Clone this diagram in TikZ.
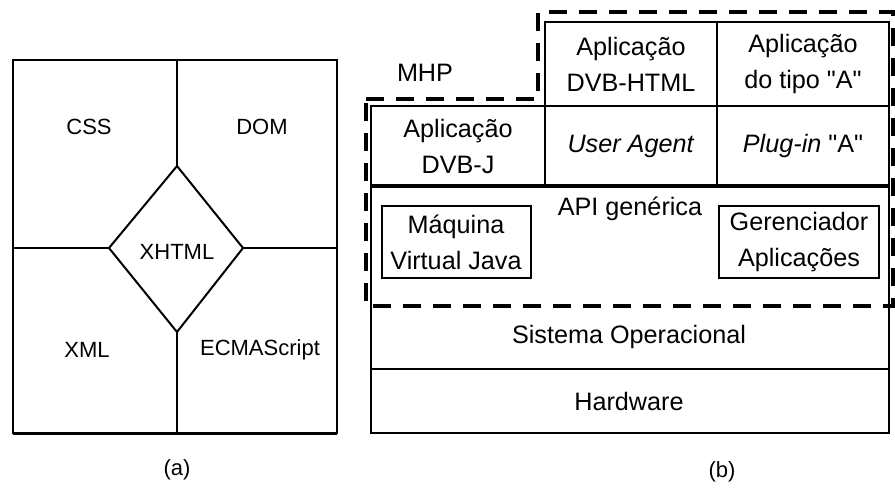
\documentclass[tikz,border=0pt]{standalone}
\usepackage{fontspec}
\setmainfont{Liberation Sans}[Ligatures=TeXOff]
\usetikzlibrary{positioning}

\begin{document}
\begin{tikzpicture}[x=0.5pt, y=-0.5pt, line width=1pt,
  every node/.style={align=center, inner sep=0pt},
  lbl/.style={font=\fontsize{11}{13}\selectfont},
  cell/.style={font=\fontsize{12.6}{18}\selectfont},
  inbox/.style={draw, line width=1pt, inner sep=2pt},
  mhpline/.style={line width=2.4pt, dash pattern=on 9pt off 6pt}]
\useasboundingbox (0,0) rectangle (895,489);
%% (a) XHTML
\draw (13,60) rectangle (337,433);%%
\draw[line width=1.5pt] (13,433) -- (337,433);%%
\coordinate (xtop) at (177,166);
\coordinate (xbot) at (177,332);
\coordinate (xlft) at (109,248);
\coordinate (xrgt) at (243,248);
\draw (xtop) -- (xrgt) -- (xbot) -- (xlft) -- cycle;%%
\draw (177,60) -- (xtop);%%
\draw (177,433) -- (xbot);%%
\draw (13,248) -- (xlft);%%
\draw (337,248) -- (xrgt);%%
\node[lbl] (xhtml) at (177,252) {XHTML};
\node[lbl] (css) at (89,127) {CSS};
\node[lbl] (dom) at (262,127) {DOM};
\node[lbl] (xml) at (87,350) {XML};
\node[lbl] (ecma) at (260,350) {ECMAScript};
\node[lbl] (capa) at (177,470) {(a)};
%% (b) MHP
\draw (545,22) rectangle (889,106);%%
\draw (717,22) -- (717,186);%%
\draw (371,106) rectangle (889,433);%%
\draw (545,106) -- (545,186);%%
\draw (371,369) -- (889,369);%%
\draw[line width=2pt] (371,186) -- (889,186);%%
\node[cell] (dvbhtml) at (631,64) {Aplicação\\DVB-HTML};
\node[cell] (tipoa) at (803,64) {Aplicação\\do tipo "A"};
\node[cell] (dvbj) at (458,146) {Aplicação\\DVB-J};
\node[cell] (agent) at (631,146) {\textit{User Agent}};
\node[cell] (plugin) at (803,146) {\textit{Plug-in} "A"};
\node[cell] (api) at (630,209) {API genérica};
\node[cell, inbox, minimum width=149*0.5pt, minimum height=72*0.5pt] (jvm) at (456,242) {Máquina\\Virtual Java};
\node[cell, inbox, minimum width=160*0.5pt, minimum height=72*0.5pt] (gerente) at (799,242) {Gerenciador\\Aplicações};
\node[cell] (so) at (629,337) {Sistema Operacional};
\node[cell] (hw) at (629,401) {Hardware};
\node[cell] (mhp) at (425,73) {MHP};
\draw[mhpline] (366,99) -- (538,99) -- (538,12) -- (893,12) -- (893,306) -- (366,306) -- cycle;%%
\node[lbl] (capb) at (722,472) {(b)};
\end{tikzpicture}
\end{document}
